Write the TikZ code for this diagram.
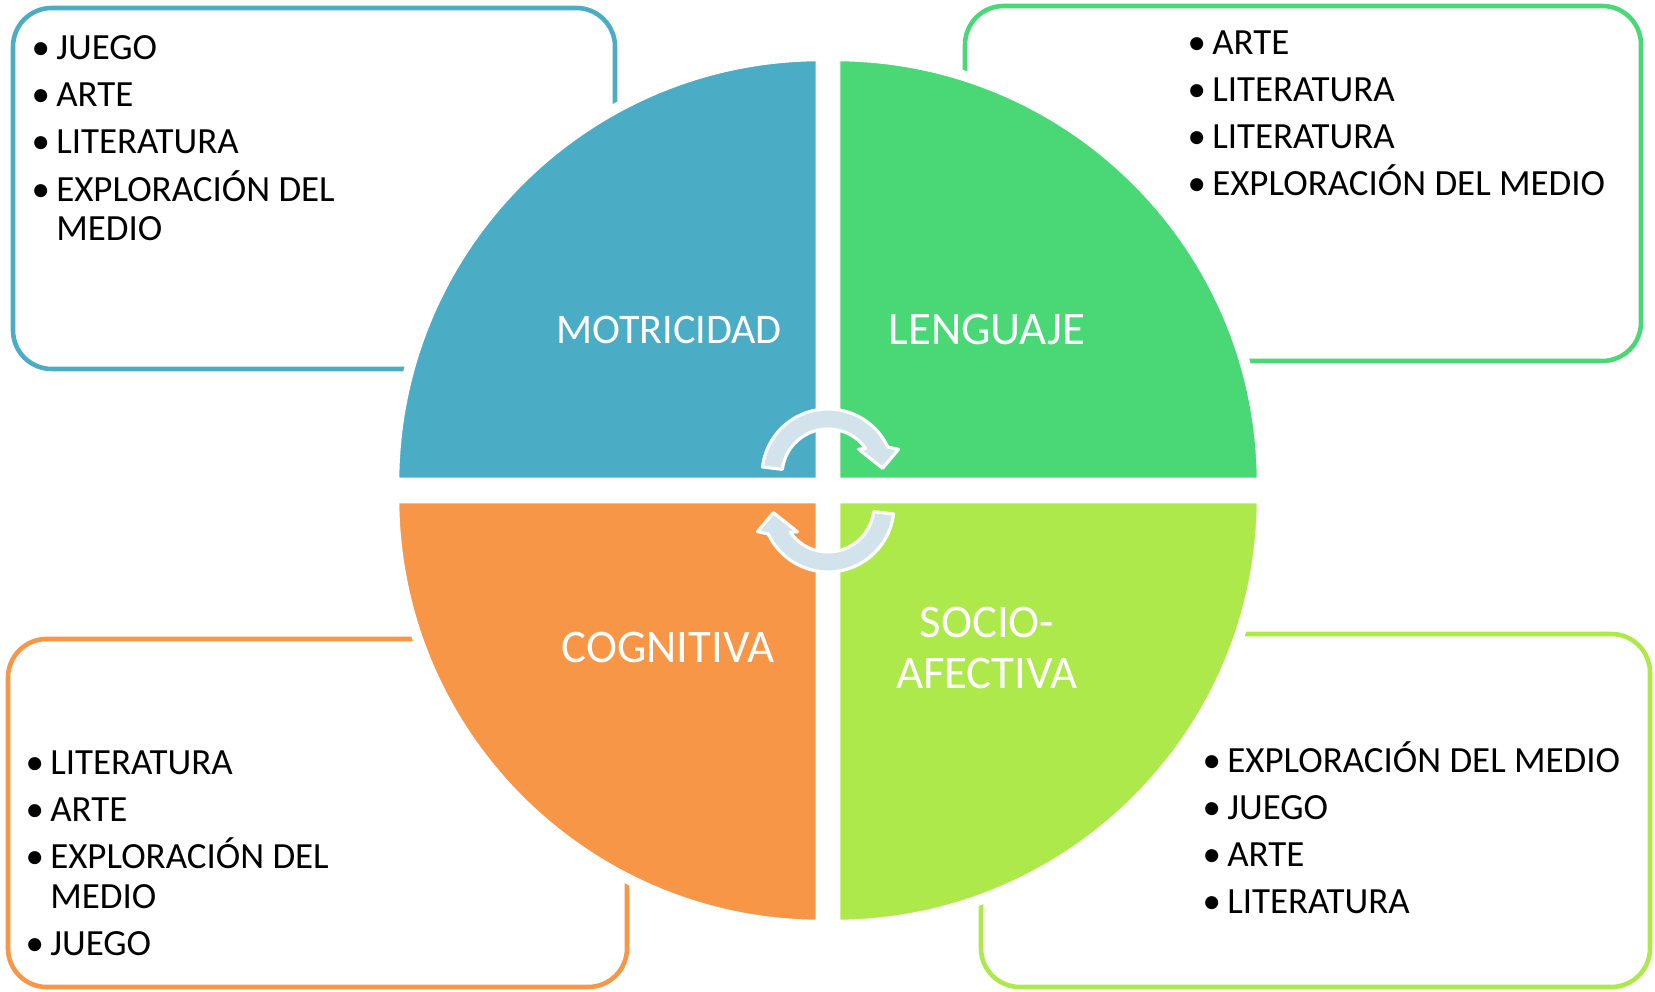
\documentclass[tikz,border=0pt]{standalone}
\usepackage{fontspec}
\setmainfont{Carlito}
\usepackage{tikz}

\definecolor{motblue}{HTML}{4BACC6}
\definecolor{lenggreen}{HTML}{4AD776}
\definecolor{socgreen}{HTML}{ADE94B}
\definecolor{cogorange}{HTML}{F79646}
\definecolor{cyclegray}{HTML}{D2E3EB}

\tikzset{
  listbox/.style={line width=1.3pt, rounded corners=11pt},
  quarter/.style={draw=white, line width=3pt},
  areatext/.style={text=white, align=center, font=\fontsize{13.3}{14.4}\selectfont},
  itemlist/.style={anchor=north west, inner sep=0pt, align=left, font=\fontsize{10.5}{11.2}\selectfont},
  cyclearrow/.style={fill=cyclegray, draw=white, line width=0.9pt, line join=round}
}
\newcommand{\itm}{\makebox[7pt][l]{\textbullet}}
\newcommand{\cnt}{\hspace*{7pt}}
\newcommand{\nxt}{\\[2.2pt]}

\begin{document}
\begin{tikzpicture}[x=0.01cm, y=0.01cm]
    \useasboundingbox (0,0) rectangle (1655,992);
    % frames
    \draw[listbox, motblue] (13,623) rectangle (615,984);
    \draw[listbox, lenggreen] (965,631) rectangle (1641,986);
    \draw[listbox, cogorange] (8,5) rectangle (627,353);
    \draw[listbox, socgreen] (981,5) rectangle (1650,358);
    % quarters
    \foreach \cx/\cy/\sa/\col in {821/509/90/motblue, 835/509/0/lenggreen, 821/494/180/cogorange, 835/494/270/socgreen}
    \path[quarter, fill=\col] (\cx,\cy) -- ++(\sa:427) arc[start angle=\sa, delta angle=90, radius=427] -- cycle;
    % area names
    \node[areatext, font=\fontsize{12}{13}\selectfont] (motLabel) at (669,662) {MOTRICIDAD};
    \node[areatext] (lengLabel) at (987,662) {LENGUAJE};
    \node[areatext] (cogLabel) at (668,344) {COGNITIVA};
    \node[areatext] (socLabel) at (987,344) {SOCIO-\\AFECTIVA};
    % cycle arrows
    \foreach \cy/\rot in {517/0, 486/180}
    \path[cyclearrow, shift={(828,\cy)}, rotate=\rot] (173:66) arc[start angle=173, end angle=25, radius=66]
      -- (20:75) -- (7:55) -- (40:40) -- (35:46) arc[start angle=35, end angle=173, radius=46] -- cycle;
    % lists
    \node[itemlist] (motList) at (31,957) {\itm JUEGO\nxt \itm ARTE\nxt \itm LITERATURA\nxt \itm EXPLORACIÓN DEL\\ \cnt MEDIO};
    \node[itemlist] (lengList) at (1187,962) {\itm ARTE\nxt \itm LITERATURA\nxt \itm LITERATURA\nxt \itm EXPLORACIÓN DEL MEDIO};
    \node[itemlist] (cogList) at (25,242) {\itm LITERATURA\nxt \itm ARTE\nxt \itm EXPLORACIÓN DEL\\ \cnt MEDIO\nxt \itm JUEGO};
    \node[itemlist] (socList) at (1202,251) {\itm EXPLORACIÓN DEL MEDIO\nxt \itm JUEGO\nxt \itm ARTE\nxt \itm LITERATURA};
\end{tikzpicture}
\end{document}
